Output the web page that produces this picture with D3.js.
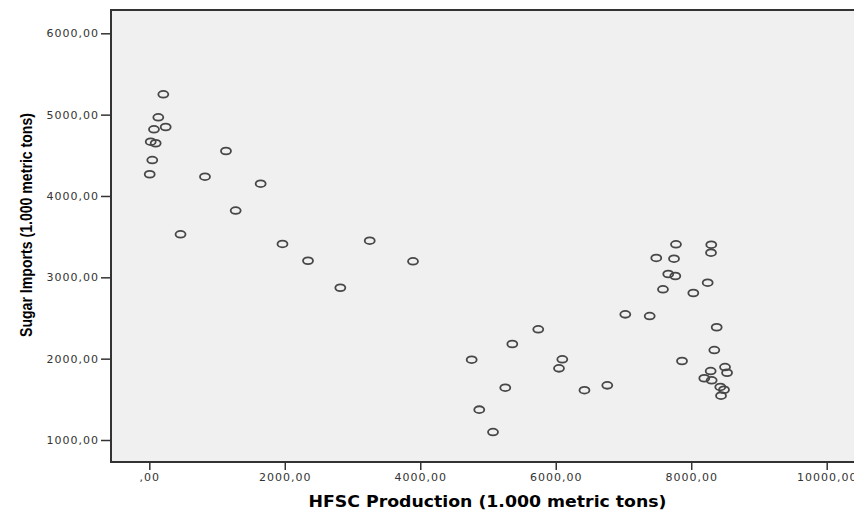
<html>
<script src='https://d3js.org/d3.v7.min.js'></script>
<style>
body {margin:0; background:white;}
.tick text {font-family:'DejaVu Sans', sans-serif; font-size:11px; fill:#333; letter-spacing:1px;}
.tick line {stroke:#333; stroke-width:1.5;}
ellipse {fill:none; stroke:#474747; stroke-width:1.8;}
</style>
<body onload='init()'>
<svg width=854 height=510></svg>
<script>
// HFSC production vs sugar imports, both in 1.000 metric tons
var hfscProduction = [207,133,242,69,21,94,44,6,1132,822,1644,1275,461,1966,3254,2343,3893,2820,
  4759,4871,5074,5255,5359,5742,6097,6048,6424,6761,7027,7387,7775,8296,8292,7484,7746,7661,
  7765,7583,8243,8031,8376,8341,7864,8499,8529,8287,8193,8302,8429,8484,8440];
var sugarImports = [5250,4967,4848,4820,4667,4648,4442,4267,4553,4237,4151,3821,3529,3410,3450,3204,3197,2872,
  1987,1373,1098,1643,2180,2361,1992,1881,1612,1672,2545,2524,3406,3401,3303,3238,3229,3041,
  3016,2853,2934,2807,2386,2106,1971,1897,1827,1848,1759,1734,1652,1618,1545];
var xTickValues = [0,2000,4000,6000,8000,10000];
var yTickValues = [1000,2000,3000,4000,5000,6000];
var xTitle = "HFSC Production (1.000 metric tons)";
var yTitle = "Sugar Imports (1.000 metric tons)";

function init() {
var left = 111, top = 10, bottom = 462

var x = d3.scaleLinear().domain([0,10000]).range([149.3,826.7]);
var y = d3.scaleLinear().domain([1000,6000]).range([440,33.3]);
var fmt = function(d) { return d === 0 ? ",00" : d + ",00"; };

var svg = d3.select("svg");

svg.append("rect")
    .attr("x",left).attr("y",top)
    .attr("width",780).attr("height",bottom-top)
    .attr("fill","#f0f0f0").attr("stroke","#333").attr("stroke-width",2);

var xAxis = d3.axisBottom(x).tickValues(xTickValues).tickFormat(fmt).tickSize(7).tickPadding(3);
var yAxis = d3.axisLeft(y).tickValues(yTickValues).tickFormat(fmt).tickSize(9).tickPadding(2);

svg.append("g")
    .attr("transform","translate(0,"+(bottom+1)+")")
    .call(xAxis)
    .call(function(g){ g.select(".domain").remove(); });

svg.append("g")
    .attr("transform","translate("+(left-1)+",0)")
    .call(yAxis)
    .call(function(g){ g.select(".domain").remove(); });

svg.selectAll("ellipse")
    .data(hfscProduction)
    .enter().append("ellipse")
    .attr("cx",function(d){ return x(d); })
    .attr("cy",function(d,i){ return y(sugarImports[i]); })
    .attr("rx",5).attr("ry",3.4);

svg.append("text")
    .attr("x",487.5).attr("y",507)
    .attr("text-anchor","middle")
    .attr("textLength",358).attr("lengthAdjust","spacingAndGlyphs")
    .style("font-family","'DejaVu Sans', sans-serif").style("font-weight","bold").style("font-size","16px")
    .text(xTitle);

svg.append("text")
    .attr("transform","translate(32,225) rotate(-90)")
    .attr("text-anchor","middle")
    .attr("textLength",224).attr("lengthAdjust","spacingAndGlyphs")
    .style("font-family","'Liberation Sans Narrow','Liberation Sans', sans-serif").style("font-weight","bold").style("font-size","16px")
    .text(yTitle);
}
</script>
</body>
</html>
